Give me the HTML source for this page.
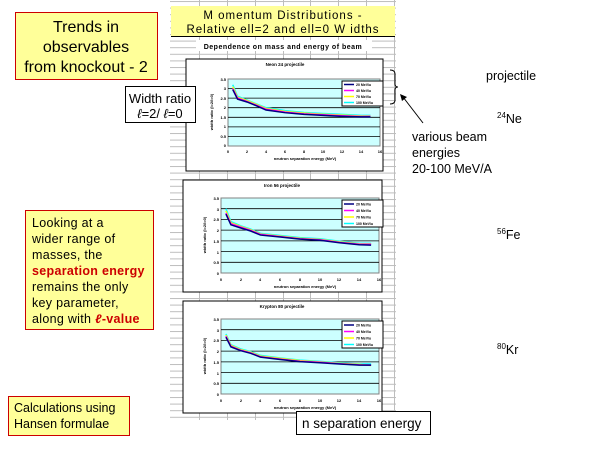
<!DOCTYPE html>
<html><head><meta charset="utf-8"><style>
html,body{margin:0;padding:0;background:#fff}
svg text{font-family:"Liberation Sans",Arial,sans-serif}
</style></head><body>
<svg width="600" height="450" viewBox="0 0 600 450" xmlns="http://www.w3.org/2000/svg">
<defs>
<pattern id="hg" x="0" y="1" width="10" height="6.6" patternUnits="userSpaceOnUse">
<line x1="0" y1="0.5" x2="10" y2="0.5" stroke="#bdbdbd" stroke-width="1"/>
</pattern>
</defs>
<rect width="600" height="450" fill="#fff"/>
<!-- spreadsheet -->
<rect x="170" y="0" width="226" height="420" fill="url(#hg)"/>
<g stroke="#bdbdbd" stroke-width="1">
<line x1="199.5" y1="0" x2="199.5" y2="420"/><line x1="227.5" y1="0" x2="227.5" y2="420"/>
<line x1="255.5" y1="0" x2="255.5" y2="420"/><line x1="283.5" y1="0" x2="283.5" y2="420"/>
<line x1="310.5" y1="0" x2="310.5" y2="420"/><line x1="338.5" y1="0" x2="338.5" y2="420"/>
<line x1="366.5" y1="0" x2="366.5" y2="420"/><line x1="394.5" y1="0" x2="394.5" y2="420"/>
</g>
<rect x="171" y="6" width="224" height="30" fill="#ffff99"/>
<line x1="171" y1="36.5" x2="395" y2="36.5" stroke="#000"/>
<text x="283" y="19" font-size="11.5" text-anchor="middle" letter-spacing="1">M omentum Distributions -</text>
<text x="283" y="33" font-size="11.5" text-anchor="middle" letter-spacing="1">Relative ell=2 and ell=0 W idths</text>
<rect x="196" y="40" width="176" height="11" fill="#fff"/>
<text x="283" y="49" font-size="7" text-anchor="middle" font-weight="bold" letter-spacing="0.5">Dependence on mass and energy of beam</text>

<!-- chart 1 -->
<g>
<rect x="186" y="59" width="197" height="112" fill="#fff" stroke="#000"/>
<text x="285" y="66" font-size="4.5" text-anchor="middle" font-weight="bold">Neon 24 projectile</text>
<rect x="228" y="79" width="152" height="67" fill="#ccffff" stroke="#808080"/>
<g stroke="#000" stroke-width="0.8">
<line x1="228" y1="88.6" x2="380" y2="88.6"/><line x1="228" y1="98.1" x2="380" y2="98.1"/>
<line x1="228" y1="107.7" x2="380" y2="107.7"/><line x1="228" y1="117.3" x2="380" y2="117.3"/>
<line x1="228" y1="126.9" x2="380" y2="126.9"/><line x1="228" y1="136.4" x2="380" y2="136.4"/>
</g>
<svg x="228" y="79" width="152" height="67" viewBox="0 0 16 3.5" preserveAspectRatio="none" overflow="visible">
<g transform="translate(0,3.5) scale(1,-1)" fill="none" stroke-width="1.5">
<polyline vector-effect="non-scaling-stroke" stroke="#00ffff" points="0.5,3.2 1,2.6 2,2.4 3,2.2 4,2.0 6,1.85 8,1.75 10,1.7 12,1.65 14,1.6 15,1.6"/>
<polyline vector-effect="non-scaling-stroke" stroke="#ffff00" points="0.5,3.1 1,2.55 2,2.37 3,2.17 4,1.96 6,1.8 8,1.72 10,1.66 12,1.61 14,1.57 15,1.57"/>
<polyline vector-effect="non-scaling-stroke" stroke="#ff00ff" points="0.5,3.0 1,2.5 2,2.33 3,2.13 4,1.92 6,1.77 8,1.68 10,1.63 12,1.58 14,1.54 15,1.55"/>
<polyline vector-effect="non-scaling-stroke" stroke="#000080" points="0.5,2.95 1,2.45 2,2.3 3,2.1 4,1.88 6,1.74 8,1.65 10,1.6 12,1.55 14,1.52 15,1.52"/>
</g></svg>
<rect x="342" y="81" width="41" height="25" fill="#fff" stroke="#000"/>
<g stroke-width="1.5"><line x1="344" y1="84.5" x2="354" y2="84.5" stroke="#000080"/><line x1="344" y1="90.5" x2="354" y2="90.5" stroke="#ff00ff"/><line x1="344" y1="96.5" x2="354" y2="96.5" stroke="#ffff00"/><line x1="344" y1="102.5" x2="354" y2="102.5" stroke="#00ffff"/></g>
<g font-size="3.5" font-weight="bold"><text x="356" y="86">20 MeV/u</text><text x="356" y="92">40 MeV/u</text><text x="356" y="98">70 MeV/u</text><text x="356" y="104">100 MeV/u</text></g>
<g font-size="4" font-weight="bold" text-anchor="end"><text x="226" y="81">3.5</text><text x="226" y="90">3</text><text x="226" y="100">2.5</text><text x="226" y="109">2</text><text x="226" y="119">1.5</text><text x="226" y="128">1</text><text x="226" y="138">0.5</text><text x="226" y="147">0</text></g>
<g font-size="4" font-weight="bold" text-anchor="middle"><text x="228" y="153">0</text><text x="247" y="153">2</text><text x="266" y="153">4</text><text x="285" y="153">6</text><text x="304" y="153">8</text><text x="323" y="153">10</text><text x="342" y="153">12</text><text x="361" y="153">14</text><text x="380" y="153">16</text></g>
<text x="305" y="160" font-size="4" font-weight="bold" text-anchor="middle">neutron separation energy (MeV)</text>
<text x="213" y="112" font-size="4" font-weight="bold" text-anchor="middle" transform="rotate(-90 213 112)">width ratio (l=2/l=0)</text>
</g>

<!-- chart 2 -->
<g>
<rect x="183" y="180" width="199" height="112" fill="#fff" stroke="#000"/>
<text x="282" y="187" font-size="4.5" text-anchor="middle" font-weight="bold">Iron 56 projectile</text>
<rect x="221" y="198" width="158" height="75" fill="#ccffff" stroke="#808080"/>
<g stroke="#000" stroke-width="0.8">
<line x1="221" y1="208.7" x2="379" y2="208.7"/><line x1="221" y1="219.4" x2="379" y2="219.4"/>
<line x1="221" y1="230.1" x2="379" y2="230.1"/><line x1="221" y1="240.9" x2="379" y2="240.9"/>
<line x1="221" y1="251.6" x2="379" y2="251.6"/><line x1="221" y1="262.3" x2="379" y2="262.3"/>
</g>
<svg x="221" y="198" width="158" height="75" viewBox="0 0 16 3.5" preserveAspectRatio="none" overflow="visible">
<g transform="translate(0,3.5) scale(1,-1)" fill="none" stroke-width="1.5">
<polyline vector-effect="non-scaling-stroke" stroke="#00ffff" points="0.5,3.0 1,2.4 2,2.2 3,2.05 4,1.85 6,1.75 8,1.65 10,1.6 12,1.48 14,1.38 15.2,1.38"/>
<polyline vector-effect="non-scaling-stroke" stroke="#ffff00" points="0.5,2.9 1,2.35 2,2.17 3,2.02 4,1.82 6,1.72 8,1.62 10,1.57 12,1.45 14,1.36 15.2,1.36"/>
<polyline vector-effect="non-scaling-stroke" stroke="#ff00ff" points="0.5,2.8 1,2.3 2,2.14 3,1.99 4,1.8 6,1.7 8,1.6 10,1.55 12,1.43 14,1.34 15.2,1.34"/>
<polyline vector-effect="non-scaling-stroke" stroke="#000080" points="0.5,2.75 1,2.25 2,2.1 3,1.96 4,1.77 6,1.68 8,1.58 10,1.53 12,1.41 14,1.32 15.2,1.3"/>
</g></svg>
<rect x="342" y="200" width="41" height="27" fill="#fff" stroke="#000"/>
<g stroke-width="1.5"><line x1="344" y1="204" x2="354" y2="204" stroke="#000080"/><line x1="344" y1="210.5" x2="354" y2="210.5" stroke="#ff00ff"/><line x1="344" y1="217" x2="354" y2="217" stroke="#ffff00"/><line x1="344" y1="223.5" x2="354" y2="223.5" stroke="#00ffff"/></g>
<g font-size="3.5" font-weight="bold"><text x="356" y="205.5">20 MeV/u</text><text x="356" y="212">40 MeV/u</text><text x="356" y="218.5">70 MeV/u</text><text x="356" y="225">100 MeV/u</text></g>
<g font-size="4" font-weight="bold" text-anchor="end"><text x="219" y="200">3.5</text><text x="219" y="211">3</text><text x="219" y="221">2.5</text><text x="219" y="232">2</text><text x="219" y="243">1.5</text><text x="219" y="254">1</text><text x="219" y="264">0.5</text><text x="219" y="275">0</text></g>
<g font-size="4" font-weight="bold" text-anchor="middle"><text x="221" y="281">0</text><text x="241" y="281">2</text><text x="260" y="281">4</text><text x="280" y="281">6</text><text x="300" y="281">8</text><text x="320" y="281">10</text><text x="339" y="281">12</text><text x="359" y="281">14</text><text x="379" y="281">16</text></g>
<text x="305" y="288" font-size="4" font-weight="bold" text-anchor="middle">neutron separation energy (MeV)</text>
<text x="206" y="235" font-size="4" font-weight="bold" text-anchor="middle" transform="rotate(-90 206 235)">width ratio (l=2/l=0)</text>
</g>

<!-- chart 3 -->
<g>
<rect x="183" y="301" width="199" height="112" fill="#fff" stroke="#000"/>
<text x="282" y="308" font-size="4.5" text-anchor="middle" font-weight="bold">Krypton 80 projectile</text>
<rect x="221" y="319" width="158" height="75" fill="#ccffff" stroke="#808080"/>
<g stroke="#000" stroke-width="0.8">
<line x1="221" y1="329.7" x2="379" y2="329.7"/><line x1="221" y1="340.4" x2="379" y2="340.4"/>
<line x1="221" y1="351.1" x2="379" y2="351.1"/><line x1="221" y1="361.9" x2="379" y2="361.9"/>
<line x1="221" y1="372.6" x2="379" y2="372.6"/><line x1="221" y1="383.3" x2="379" y2="383.3"/>
</g>
<svg x="221" y="319" width="158" height="75" viewBox="0 0 16 3.5" preserveAspectRatio="none" overflow="visible">
<g transform="translate(0,3.5) scale(1,-1)" fill="none" stroke-width="1.5">
<polyline vector-effect="non-scaling-stroke" stroke="#00ffff" points="0.5,2.8 1,2.3 2,2.1 3,1.98 4,1.8 6,1.68 8,1.58 10,1.52 12,1.45 14,1.4 15.2,1.4"/>
<polyline vector-effect="non-scaling-stroke" stroke="#ffff00" points="0.5,2.75 1,2.27 2,2.07 3,1.95 4,1.77 6,1.66 8,1.56 10,1.5 12,1.43 14,1.38 15.2,1.33"/>
<polyline vector-effect="non-scaling-stroke" stroke="#ff00ff" points="0.5,2.7 1,2.23 2,2.04 3,1.92 4,1.74 6,1.63 8,1.53 10,1.48 12,1.41 14,1.36 15.2,1.35"/>
<polyline vector-effect="non-scaling-stroke" stroke="#000080" points="0.5,2.65 1,2.2 2,2.02 3,1.9 4,1.72 6,1.61 8,1.51 10,1.46 12,1.4 14,1.35 15.2,1.35"/>
</g></svg>
<rect x="342" y="321" width="41" height="27" fill="#fff" stroke="#000"/>
<g stroke-width="1.5"><line x1="344" y1="325" x2="354" y2="325" stroke="#000080"/><line x1="344" y1="331.5" x2="354" y2="331.5" stroke="#ff00ff"/><line x1="344" y1="338" x2="354" y2="338" stroke="#ffff00"/><line x1="344" y1="344.5" x2="354" y2="344.5" stroke="#00ffff"/></g>
<g font-size="3.5" font-weight="bold"><text x="356" y="326.5">20 MeV/u</text><text x="356" y="333">40 MeV/u</text><text x="356" y="339.5">70 MeV/u</text><text x="356" y="346">100 MeV/u</text></g>
<g font-size="4" font-weight="bold" text-anchor="end"><text x="219" y="321">3.5</text><text x="219" y="332">3</text><text x="219" y="342">2.5</text><text x="219" y="353">2</text><text x="219" y="364">1.5</text><text x="219" y="375">1</text><text x="219" y="385">0.5</text><text x="219" y="396">0</text></g>
<g font-size="4" font-weight="bold" text-anchor="middle"><text x="221" y="402">0</text><text x="241" y="402">2</text><text x="260" y="402">4</text><text x="280" y="402">6</text><text x="300" y="402">8</text><text x="320" y="402">10</text><text x="339" y="402">12</text><text x="359" y="402">14</text><text x="379" y="402">16</text></g>
<text x="305" y="409" font-size="4" font-weight="bold" text-anchor="middle">neutron separation energy (MeV)</text>
<text x="206" y="356" font-size="4" font-weight="bold" text-anchor="middle" transform="rotate(-90 206 356)">width ratio (l=2/l=0)</text>
</g>

<!-- left boxes -->
<rect x="15.5" y="12.5" width="142" height="67" fill="#ffff99" stroke="#cc0000"/>
<g font-size="16" text-anchor="middle"><text x="86" y="32">Trends in</text><text x="86" y="52">observables</text><text x="86" y="72">from knockout - 2</text></g>

<rect x="125.5" y="86.5" width="70" height="36" fill="#fff" stroke="#000"/>
<text x="160" y="103" font-size="13" text-anchor="middle">Width ratio</text>
<text x="160" y="118" font-size="13" text-anchor="middle"><tspan font-style="italic">ℓ</tspan>=2/ <tspan font-style="italic">ℓ</tspan>=0</text>

<rect x="25.5" y="210.5" width="128" height="119" fill="#ffff99" stroke="#cc0000"/>
<g font-size="12.5" letter-spacing="0.3">
<text x="32" y="227">Looking at a</text>
<text x="32" y="243">wider range of</text>
<text x="32" y="259">masses, the</text>
<text x="32" y="275" fill="#cc0000" font-weight="bold">separation energy</text>
<text x="32" y="291">remains the only</text>
<text x="32" y="307">key parameter,</text>
<text x="32" y="323">along with <tspan fill="#cc0000" font-weight="bold" font-style="italic">ℓ</tspan><tspan fill="#cc0000" font-weight="bold">-value</tspan></text>
</g>

<rect x="8.5" y="396.5" width="121" height="39" fill="#ffff99" stroke="#cc0000"/>
<g font-size="12.5"><text x="14" y="412">Calculations using</text><text x="14" y="428">Hansen formulae</text></g>

<rect x="296.5" y="411.5" width="134" height="23" fill="#fff" stroke="#000"/>
<text x="302" y="428" font-size="13.5">n separation energy</text>

<!-- right annotations -->
<path d="M390 70 Q395 70 395 74 L395 84 Q395 87 398 87 Q395 87 395 90 L395 100 Q395 104 390 104" fill="none" stroke="#000"/>
<line x1="423" y1="123" x2="403" y2="97" stroke="#000"/>
<polygon points="400,94 407,97 402,101" fill="#000"/>
<g font-size="12.5"><text x="412" y="141">various beam</text><text x="412" y="157">energies</text><text x="412" y="173">20-100 MeV/A</text></g>
<text x="486" y="80" font-size="12.5">projectile</text>
<text x="497" y="123" font-size="12.5"><tspan font-size="8" dy="-5">24</tspan><tspan dy="5">Ne</tspan></text>
<text x="497" y="239" font-size="12.5"><tspan font-size="8" dy="-5">56</tspan><tspan dy="5">Fe</tspan></text>
<text x="497" y="354" font-size="12.5"><tspan font-size="8" dy="-5">80</tspan><tspan dy="5">Kr</tspan></text>
</svg>
</body></html>
